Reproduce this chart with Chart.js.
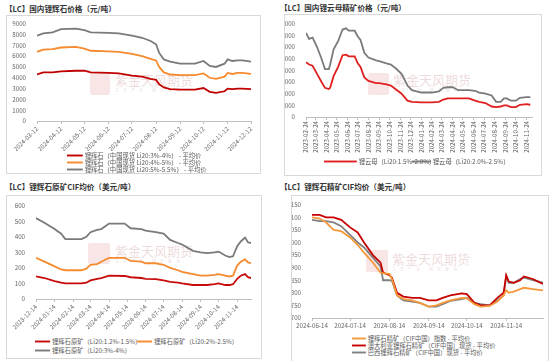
<!DOCTYPE html>
<html>
<head>
<meta charset="utf-8">
<script src="https://cdn.jsdelivr.net/npm/chart.js"></script>
<style>
  body { margin: 0; width: 550px; height: 361px; overflow: hidden; background: #fff; position: relative;
         font-family: "Noto Sans CJK SC", sans-serif; }
  .title { position: absolute; font-size: 7.6px; font-weight: bold; color: #333; white-space: nowrap; line-height: 10px; }
  .box { position: absolute; border: 1px solid #d9d9d9; box-sizing: border-box; }
  .plot { position: absolute; }
  .wm { position: absolute; color: rgba(205,150,150,0.35); font-size: 13px; white-space: nowrap; line-height: 14px; }
  .wm small { display: block; font-size: 4px; letter-spacing: 4px; color: rgba(200,160,160,0.4); line-height: 6px; }
  .seal { position: absolute; background: rgba(225,140,140,0.22); border-radius: 2px; }
  .lg { position: absolute; font-size: 10px; color: #5a5a5a; white-space: nowrap; line-height: 11px;
        display: flex; align-items: center; transform: scale(0.63); transform-origin: 0 50%; }
  .lg i { display: inline-block; height: 3px; margin-right: 3px; }
</style>
</head>
<body>

<div class="title" style="left:5px;top:4px">【LC】国内锂辉石价格（元/吨）</div>
<div class="title" style="left:280px;top:3px">【LC】国内锂云母精矿价格（元/吨）</div>
<div class="title" style="left:5px;top:182px">【LC】锂辉石原矿CIF均价（美元/吨）</div>
<div class="title" style="left:280px;top:182px">【LC】锂辉石精矿CIF均价（美元/吨）</div>

<div class="box" style="left:6px;top:15px;width:255px;height:159px"></div>
<div class="box" style="left:284px;top:14px;width:258px;height:162px"></div>
<div class="box" style="left:6px;top:195px;width:256px;height:164px"></div>
<div class="box" style="left:291px;top:195px;width:258px;height:170px"></div>

<div class="seal" style="left:90px;top:73px;width:20px;height:22px"></div>
<div class="wm" style="left:115px;top:73px">紫金天风期货<small>立足产业 研究驱动</small></div>
<div class="seal" style="left:368px;top:73px;width:21px;height:22px"></div>
<div class="wm" style="left:393px;top:73px">紫金天风期货<small>立足产业 研究驱动</small></div>
<div class="seal" style="left:88px;top:243px;width:22px;height:21px"></div>
<div class="wm" style="left:115px;top:244px">紫金天风期货<small>立足产业 研究驱动</small></div>
<div class="seal" style="left:366px;top:250px;width:22px;height:22px"></div>
<div class="wm" style="left:392px;top:252px">紫金天风期货<small>立足产业 研究驱动</small></div>

<div class="plot" style="left:8px;top:17px;width:250px;height:134px"><canvas id="c1"></canvas></div>
<div class="plot" style="left:285px;top:17px;width:255px;height:136px"><canvas id="c2"></canvas></div>
<div class="plot" style="left:8px;top:199px;width:250px;height:132px"><canvas id="c3"></canvas></div>
<div class="plot" style="left:292px;top:198px;width:256px;height:132px"><canvas id="c4"></canvas></div>

<div id="legends"></div>

<script>
  // ---- panel 1: 国内锂辉石价格
  const p1Ticks = ['2024-03-12','2024-04-12','2024-05-12','2024-06-12','2024-07-12','2024-08-12',
    '2024-09-12','2024-10-12','2024-11-12','2024-12-12'];
  const p1Dates = ['2024-03-12','2024-03-20','2024-04-01','2024-04-12','2024-05-01','2024-05-12','2024-05-20',
    '2024-06-12','2024-06-25','2024-07-12','2024-07-25','2024-08-05','2024-08-12','2024-08-16','2024-08-22',
    '2024-08-30','2024-09-12','2024-10-01','2024-10-12','2024-10-20','2024-10-28','2024-11-08','2024-11-12',
    '2024-11-18','2024-11-25','2024-12-01','2024-12-12'];
  const p1Spod34 = [4300,4500,4500,4600,4650,4650,4500,4450,4400,4200,4100,3900,3800,3400,3100,2950,2900,2900,
    3050,2700,2600,2750,3000,2950,3000,3000,2950];
  const p1Spod45 = [6400,6600,6650,6800,6850,6700,6500,6450,6400,6200,6000,5750,5600,5000,4500,4300,4250,4250,
    4400,4000,3900,4100,4450,4350,4450,4450,4350];
  const p1Spod555 = [7900,8100,8200,8500,8550,8400,8200,8150,8100,7900,7700,7400,7100,6300,5700,5500,5300,5300,
    5550,5100,5000,5300,5700,5550,5600,5600,5500];

  // ---- panel 2: 国内锂云母精矿价格
  const p2Ticks = ['2023-02-24','2023-03-24','2023-04-24','2023-05-24','2023-06-24','2023-07-24','2023-08-24',
    '2023-09-24','2023-10-24','2023-11-24','2023-12-24','2024-01-24','2024-02-24','2024-03-24','2024-04-24',
    '2024-05-24','2024-06-24','2024-07-24','2024-08-24','2024-09-24','2024-10-24','2024-11-24'];
  const p2Dates = ['2023-02-24','2023-03-05','2023-03-15','2023-03-28','2023-04-10','2023-04-20','2023-05-01',
    '2023-05-05','2023-05-15','2023-05-28','2023-06-10','2023-06-20','2023-06-28','2023-07-15','2023-07-24',
    '2023-08-01','2023-08-12','2023-08-24','2023-09-15','2023-09-24','2023-10-15','2023-10-28','2023-11-10',
    '2023-11-28','2023-12-15','2023-12-28','2024-01-24','2024-02-24','2024-03-15','2024-03-28','2024-04-10',
    '2024-04-24','2024-05-10','2024-06-10','2024-06-28','2024-07-10','2024-07-28','2024-08-15','2024-08-28',
    '2024-09-10','2024-09-20','2024-09-28','2024-10-10','2024-10-24','2024-11-05','2024-11-24','2024-12-05'];
  const p2Lep1520 = [4700,4500,4400,3700,3000,2500,2400,2500,3500,4300,5300,5350,5200,5200,4600,4300,3400,3100,
    2900,2900,2800,2700,2400,2000,1400,1300,1250,1250,1300,1500,1600,1600,1600,1600,1400,1300,1200,900,850,900,
    1000,1000,850,850,1050,1100,1050];
  const p2Lep2025 = [7200,6700,6800,6000,5000,4100,4100,4500,5800,6500,7500,7600,7400,7400,6900,6600,5500,5100,
    4850,4800,4600,4500,4200,3700,2700,2300,2100,2100,2200,2500,2550,2550,2300,2300,2250,2100,2000,1850,1300,1300,
    1600,1600,1400,1400,1650,1700,1700];

  // ---- panel 3: 锂辉石原矿CIF均价
  const p3Ticks = ['2023-12-14','2024-01-14','2024-02-14','2024-03-14','2024-04-14','2024-05-14','2024-06-14',
    '2024-07-14','2024-08-14','2024-09-14','2024-10-14','2024-11-14'];
  const p3Dates = ['2023-12-14','2023-12-28','2024-01-14','2024-01-25','2024-02-01','2024-02-28','2024-03-07',
    '2024-03-14','2024-03-25','2024-04-01','2024-04-14','2024-05-10','2024-05-20','2024-06-07','2024-06-14',
    '2024-07-01','2024-07-14','2024-07-25','2024-08-07','2024-08-14','2024-09-01','2024-09-14','2024-09-25',
    '2024-10-07','2024-10-14','2024-10-25','2024-11-01','2024-11-07','2024-11-14','2024-11-20','2024-11-27',
    '2024-12-02','2024-12-07'];
  const p3Raw1215 = [145,135,115,105,100,100,105,120,130,135,150,148,140,135,130,128,120,110,105,100,90,90,90,95,
    100,90,90,95,130,150,160,140,135];
  const p3Raw225 = [265,240,210,190,185,185,195,220,225,240,265,265,245,240,230,230,220,200,185,175,160,150,150,
    155,160,150,145,150,215,240,255,235,230];
  const p3Raw34 = [520,490,450,420,385,385,400,430,445,450,485,485,455,450,440,430,420,380,360,350,310,300,295,
    300,305,280,270,275,340,370,395,365,360];

  // ---- panel 4: 锂辉石精矿CIF均价
  const p4Ticks = ['2024-06-14','2024-07-14','2024-08-14','2024-09-14','2024-10-14','2024-11-14'];
  const p4Dates = ['2024-06-14','2024-06-20','2024-06-25','2024-07-01','2024-07-07','2024-07-14','2024-07-20',
    '2024-07-25','2024-08-01','2024-08-07','2024-08-09','2024-08-14','2024-08-16','2024-08-20','2024-08-25',
    '2024-09-01','2024-09-07','2024-09-14','2024-09-20','2024-09-25','2024-10-01','2024-10-10','2024-10-14',
    '2024-10-20','2024-10-25','2024-11-01','2024-11-07','2024-11-12','2024-11-14','2024-11-16','2024-11-20',
    '2024-11-25','2024-11-28','2024-12-05','2024-12-13'];
  const p4Index = [1100,1095,1080,1050,1045,1020,990,960,920,880,878,875,855,790,775,770,760,745,750,760,770,780,
    778,755,745,748,765,790,810,800,805,815,820,815,810];
  const p4Aus = [1110,1110,1100,1100,1090,1060,1040,1000,950,920,880,870,860,800,785,780,780,770,770,780,790,798,
    795,760,750,750,780,800,870,845,840,850,865,855,835];
  const p4Bra = [1090,1085,1085,1080,1065,1030,1000,980,940,905,850,850,848,790,770,765,760,745,745,755,768,775,
    780,760,755,750,770,790,865,840,840,855,860,850,840];

  const DAY = 864e5;
  const toDay = s => Date.parse(s + 'T00:00:00Z') / DAY;
  const fmt = v => new Date(Math.round(v) * DAY).toISOString().slice(0, 10);
  const pts = (dates, vals) => dates.map((d, i) => ({ x: toDay(d), y: vals[i] }));
  const tickFont = { family: '"Noto Sans CJK SC", sans-serif', size: 6.2 };

  function line(label, dates, vals, color) {
    return { label, data: pts(dates, vals), borderColor: color, backgroundColor: color,
      borderWidth: 1.8, pointRadius: 0, tension: 0, fill: false };
  }

  function makeChart(id, o) {
    return new Chart(document.getElementById(id), {
      type: 'line',
      data: { datasets: o.datasets },
      options: {
        responsive: true, maintainAspectRatio: false, animation: false,
        layout: { padding: o.padding },
        plugins: { legend: { display: false }, tooltip: { enabled: false } },
        scales: {
          x: {
            type: 'linear', min: toDay(o.xMin), max: toDay(o.xMax),
            afterBuildTicks: s => { s.ticks = o.ticks.map(d => ({ value: toDay(d) })); },
            afterFit: s => { s.height = o.xHeight; },
            grid: { drawOnChartArea: false, drawTicks: true, tickLength: 3, color: '#bfbfbf' },
            border: { display: true, color: '#bfbfbf' },
            ticks: { autoSkip: false, minRotation: o.rot, maxRotation: o.rot, padding: 1,
              font: tickFont, color: '#666', callback: v => fmt(v) }
          },
          y: {
            min: o.yMin, max: o.yMax,
            afterFit: s => { s.width = o.yWidth; },
            grid: { display: false },
            border: { display: false },
            ticks: { stepSize: o.yStep, padding: 3, font: tickFont, color: '#666',
              callback: v => String(v) }
          }
        }
      }
    });
  }

  makeChart('c1', {
    datasets: [
      line('锂辉石（中国现货 Li20:3%-4%） - 平均价', p1Dates, p1Spod34, '#c00000'),
      line('锂辉石（中国现货 Li20:4%-5%） - 平均价', p1Dates, p1Spod45, '#f58a2e'),
      line('锂辉石（中国现货 Li20:5%-5.5%） - 平均价', p1Dates, p1Spod555, '#7a7a7a')
    ],
    ticks: p1Ticks, xMin: '2024-03-12', xMax: '2024-12-12', rot: 45,
    yMin: 0, yMax: 9000, yStep: 1000, yWidth: 29, xHeight: 30, padding: { top: 4, right: 7 }
  });

  makeChart('c2', {
    datasets: [
      line('锂云母（Li20:1.5%-2.0%）', p2Dates, p2Lep1520, '#e02020'),
      line('锂云母（Li20:2.0%-2.5%）', p2Dates, p2Lep2025, '#7a7a7a')
    ],
    ticks: p2Ticks, xMin: '2023-02-24', xMax: '2024-12-10', rot: 90,
    yMin: 0, yMax: 8000, yStep: 1000, yWidth: 21, xHeight: 36, padding: { top: 4, right: 8 }
  });

  makeChart('c3', {
    datasets: [
      line('锂辉石原矿（Li20:1.2%-1.5%）', p3Dates, p3Raw1215, '#c80a0a'),
      line('锂辉石原矿（Li20:2%-2.5%）', p3Dates, p3Raw225, '#f58a2e'),
      line('锂辉石原矿（Li20:3%-4%）', p3Dates, p3Raw34, '#7a7a7a')
    ],
    ticks: p3Ticks, xMin: '2023-12-14', xMax: '2024-12-07', rot: 45,
    yMin: 0, yMax: 600, yStep: 100, yWidth: 28, xHeight: 32, padding: { top: 4, right: 7 }
  });

  makeChart('c4', {
    datasets: [
      line('锂辉石精矿（CIF中国）指数 - 平均价', p4Dates, p4Index, '#f5983c'),
      line('澳大利亚锂辉石精矿（CIF中国）现货 - 平均价', p4Dates, p4Aus, '#c80000'),
      line('巴西锂辉石精矿（CIF中国）现货 - 平均价', p4Dates, p4Bra, '#808080')
    ],
    ticks: p4Ticks, xMin: '2024-06-14', xMax: '2024-12-13', rot: 0,
    yMin: 700, yMax: 1150, yStep: 50, yWidth: 20, xHeight: 12, padding: { top: 4, right: 5 }
  });

  // legends, placed like the original Excel legends (drawn at 10px and scaled down)
  const legendItems = [
    { text: '锂辉石（中国现货 Li20:3%-4%） - 平均价', color: '#c00000', x: 67, y: 152, w: 16 },
    { text: '锂辉石（中国现货 Li20:4%-5%） - 平均价', color: '#f58a2e', x: 67, y: 159, w: 16 },
    { text: '锂辉石（中国现货 Li20:5%-5.5%） - 平均价', color: '#7a7a7a', x: 67, y: 166, w: 16 },
    { text: '锂云母（Li20:1.5%-2.0%）', color: '#e02020', x: 324, y: 158, w: 33 },
    { text: '锂云母（Li20:2.0%-2.5%）', color: '#7a7a7a', x: 412, y: 158, w: 19 },
    { text: '锂辉石原矿（Li20:1.2%-1.5%）', color: '#c80a0a', x: 35, y: 338, w: 15 },
    { text: '锂辉石原矿（Li20:2%-2.5%）', color: '#f58a2e', x: 137, y: 338, w: 15 },
    { text: '锂辉石原矿（Li20:3%-4%）', color: '#7a7a7a', x: 35, y: 347, w: 15 },
    { text: '锂辉石精矿（CIF中国）指数 - 平均价', color: '#f5983c', x: 352, y: 335, w: 14 },
    { text: '澳大利亚锂辉石精矿（CIF中国）现货 - 平均价', color: '#c80000', x: 352, y: 342, w: 14 },
    { text: '巴西锂辉石精矿（CIF中国）现货 - 平均价', color: '#808080', x: 352, y: 349, w: 14 }
  ];
  const k = 0.63;
  const lgBox = document.getElementById('legends');
  legendItems.forEach(it => {
    const d = document.createElement('div');
    d.className = 'lg';
    d.style.left = it.x + 'px';
    d.style.top = (it.y - 2) + 'px';
    d.innerHTML = '<i style="width:' + Math.round(it.w / k) + 'px;background:' + it.color + '"></i>' + it.text;
    lgBox.appendChild(d);
  });
</script>
</body>
</html>
